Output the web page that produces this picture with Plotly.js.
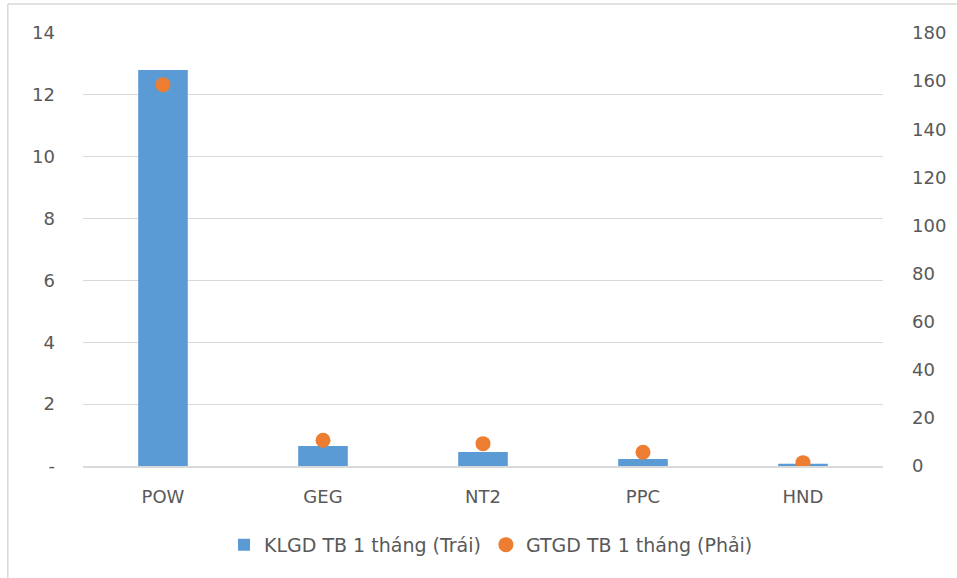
<!DOCTYPE html>
<html>
<head>
<meta charset="utf-8">
<script src="https://cdn.plot.ly/plotly-3.0.1.min.js"></script>
<style>html,body{margin:0;padding:0;background:#fff;}#chart{width:957px;height:578px;}</style>
</head>
<body>
<div id="chart"></div>
<script>
const categories = ["POW", "GEG", "NT2", "PPC", "HND"];
const klgd = [12.8, 0.65, 0.45, 0.23, 0.07];
const gtgd = [158.5, 10.7, 9.3, 5.7, 1.4];
const leftTicks = [0, 2, 4, 6, 8, 10, 12, 14];
const leftTickText = ["-", "2", "4", "6", "8", "10", "12", "14"];
const rightTicks = [0, 20, 40, 60, 80, 100, 120, 140, 160, 180];

const fontFam = "Tahoma, Verdana, 'DejaVu Sans', sans-serif";
const grey = "#595959";

const data = [
  {
    type: "bar", x: categories, y: klgd, name: "KLGD TB 1 tháng (Trái)",
    marker: {color: "#5B9BD5"}, yaxis: "y"
  },
  {
    type: "scatter", mode: "markers", x: categories, y: gtgd, name: "GTGD TB 1 tháng (Phải)",
    marker: {color: "#ED7D31", size: 15}, yaxis: "y2"
  }
];

const layout = {
  width: 957, height: 578,
  margin: {l: 83, r: 74, t: 33, b: 112},
  paper_bgcolor: "#fff", plot_bgcolor: "#fff",
  font: {family: fontFam, color: grey, size: 18},
  bargap: 0.69,
  showlegend: true,
  legend: {orientation: "h", x: 0.51, xanchor: "center", y: -0.182, yanchor: "middle",
           font: {size: 19, color: grey}, itemwidth: 30, traceorder: "normal"},
  xaxis: {
    showgrid: false, showline: true, linecolor: "#D9D9D9", linewidth: 2,
    ticks: "", tickfont: {size: 18, color: grey}, ticklabelstandoff: 13
  },
  yaxis: {
    range: [0, 14], tickvals: leftTicks, ticktext: leftTickText,
    showgrid: true, gridcolor: "#D9D9D9", gridwidth: 1, zeroline: false,
    showline: false, ticks: "", tickfont: {size: 18, color: grey}, ticklabelstandoff: 27
  },
  yaxis2: {
    range: [0, 180], tickvals: rightTicks, overlaying: "y", side: "right",
    showgrid: false, zeroline: false, showline: false, ticks: "",
    tickfont: {size: 18, color: grey}, ticklabelstandoff: 28
  },
  shapes: [
    {type: "line", xref: "paper", yref: "paper", x0: -0.094, x1: 1.1, y0: 1.067, y1: 1.067,
     line: {color: "#D9D9D9", width: 1.5}},
    {type: "line", xref: "paper", yref: "paper", x0: -0.094, x1: -0.094, y0: 1.067, y1: -0.3,
     line: {color: "#D9D9D9", width: 1.5}}
  ]
};

Plotly.newPlot("chart", data, layout, {displayModeBar: false, staticPlot: true});
</script>
</body>
</html>
